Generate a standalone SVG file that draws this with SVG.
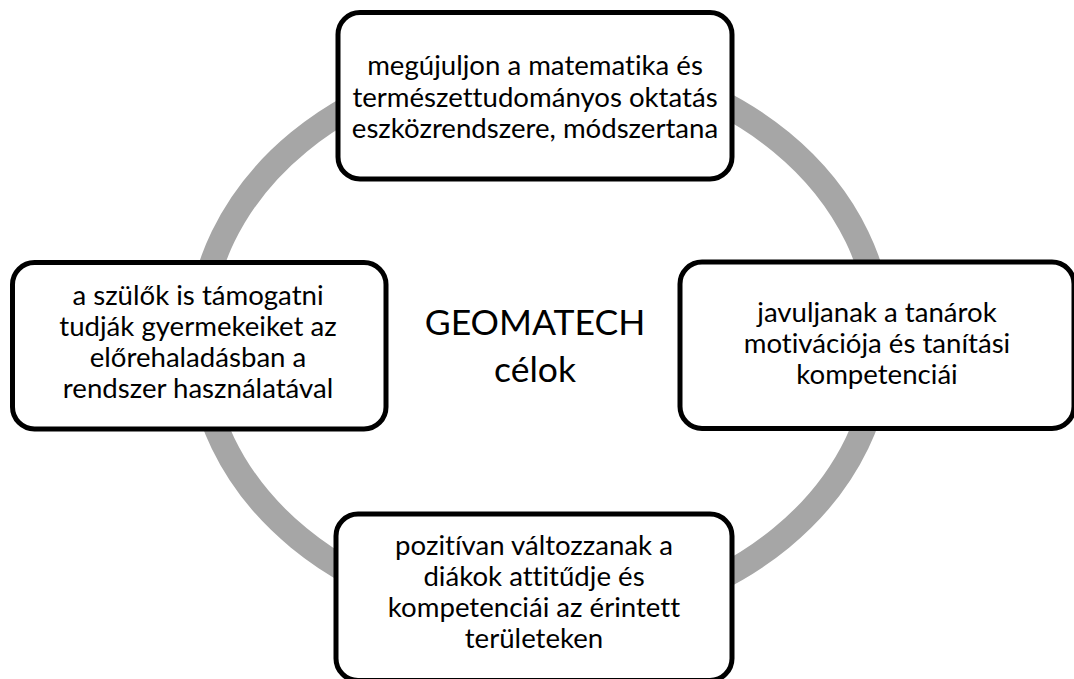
<svg xmlns="http://www.w3.org/2000/svg" width="1074" height="679" viewBox="0 0 1074 679">
<style>
.box{fill:#fff;stroke:#000;stroke-width:5}
.t{font-family:Lato,"Open Sans","Liberation Sans",sans-serif;font-size:27.6px;fill:#000;text-anchor:middle;font-variant-ligatures:none}
.c{font-family:Lato,"Open Sans","Liberation Sans",sans-serif;font-size:35.5px;fill:#000;text-anchor:middle}
.ring{fill:none;stroke:#a6a6a6;stroke-width:25}
</style>
<rect width="1074" height="679" fill="#fff"/>
<g id="connectors">
<ellipse class="ring" cx="540" cy="340" rx="341" ry="280"/>
</g>
<g id="center">
<text class="c" x="535" y="335">GEOMATECH</text>
<text class="c" x="535" y="382">célok</text>
</g>
<g id="node-top">
<rect class="box" x="338" y="12.5" width="394" height="166.5" rx="22"/>
<text class="t" x="535" y="75">megújuljon a matematika és</text>
<text class="t" x="535" y="107">természettudományos oktatás</text>
<text class="t" x="535" y="138">eszközrendszere, módszertana</text>
</g>
<g id="node-right">
<rect class="box" x="680" y="262" width="394" height="166.5" rx="22"/>
<text class="t" x="877" y="322">javuljanak a tanárok</text>
<text class="t" x="877" y="353">motivációja és tanítási</text>
<text class="t" x="877" y="384">kompetenciái</text>
</g>
<g id="node-bottom">
<rect class="box" x="336" y="514" width="396" height="166.5" rx="22"/>
<text class="t" x="534" y="555">pozitívan változzanak a</text>
<text class="t" x="534" y="586">diákok attitűdje és</text>
<text class="t" x="534" y="617">kompetenciái az érintett</text>
<text class="t" x="534" y="648">területeken</text>
</g>
<g id="node-left">
<rect class="box" x="12.5" y="262.5" width="373.5" height="166.5" rx="22"/>
<text class="t" x="198" y="305">a szülők is támogatni</text>
<text class="t" x="198" y="336">tudják gyermekeiket az</text>
<text class="t" x="198" y="367">előrehaladásban a</text>
<text class="t" x="198" y="398">rendszer használatával</text>
</g>
</svg>
